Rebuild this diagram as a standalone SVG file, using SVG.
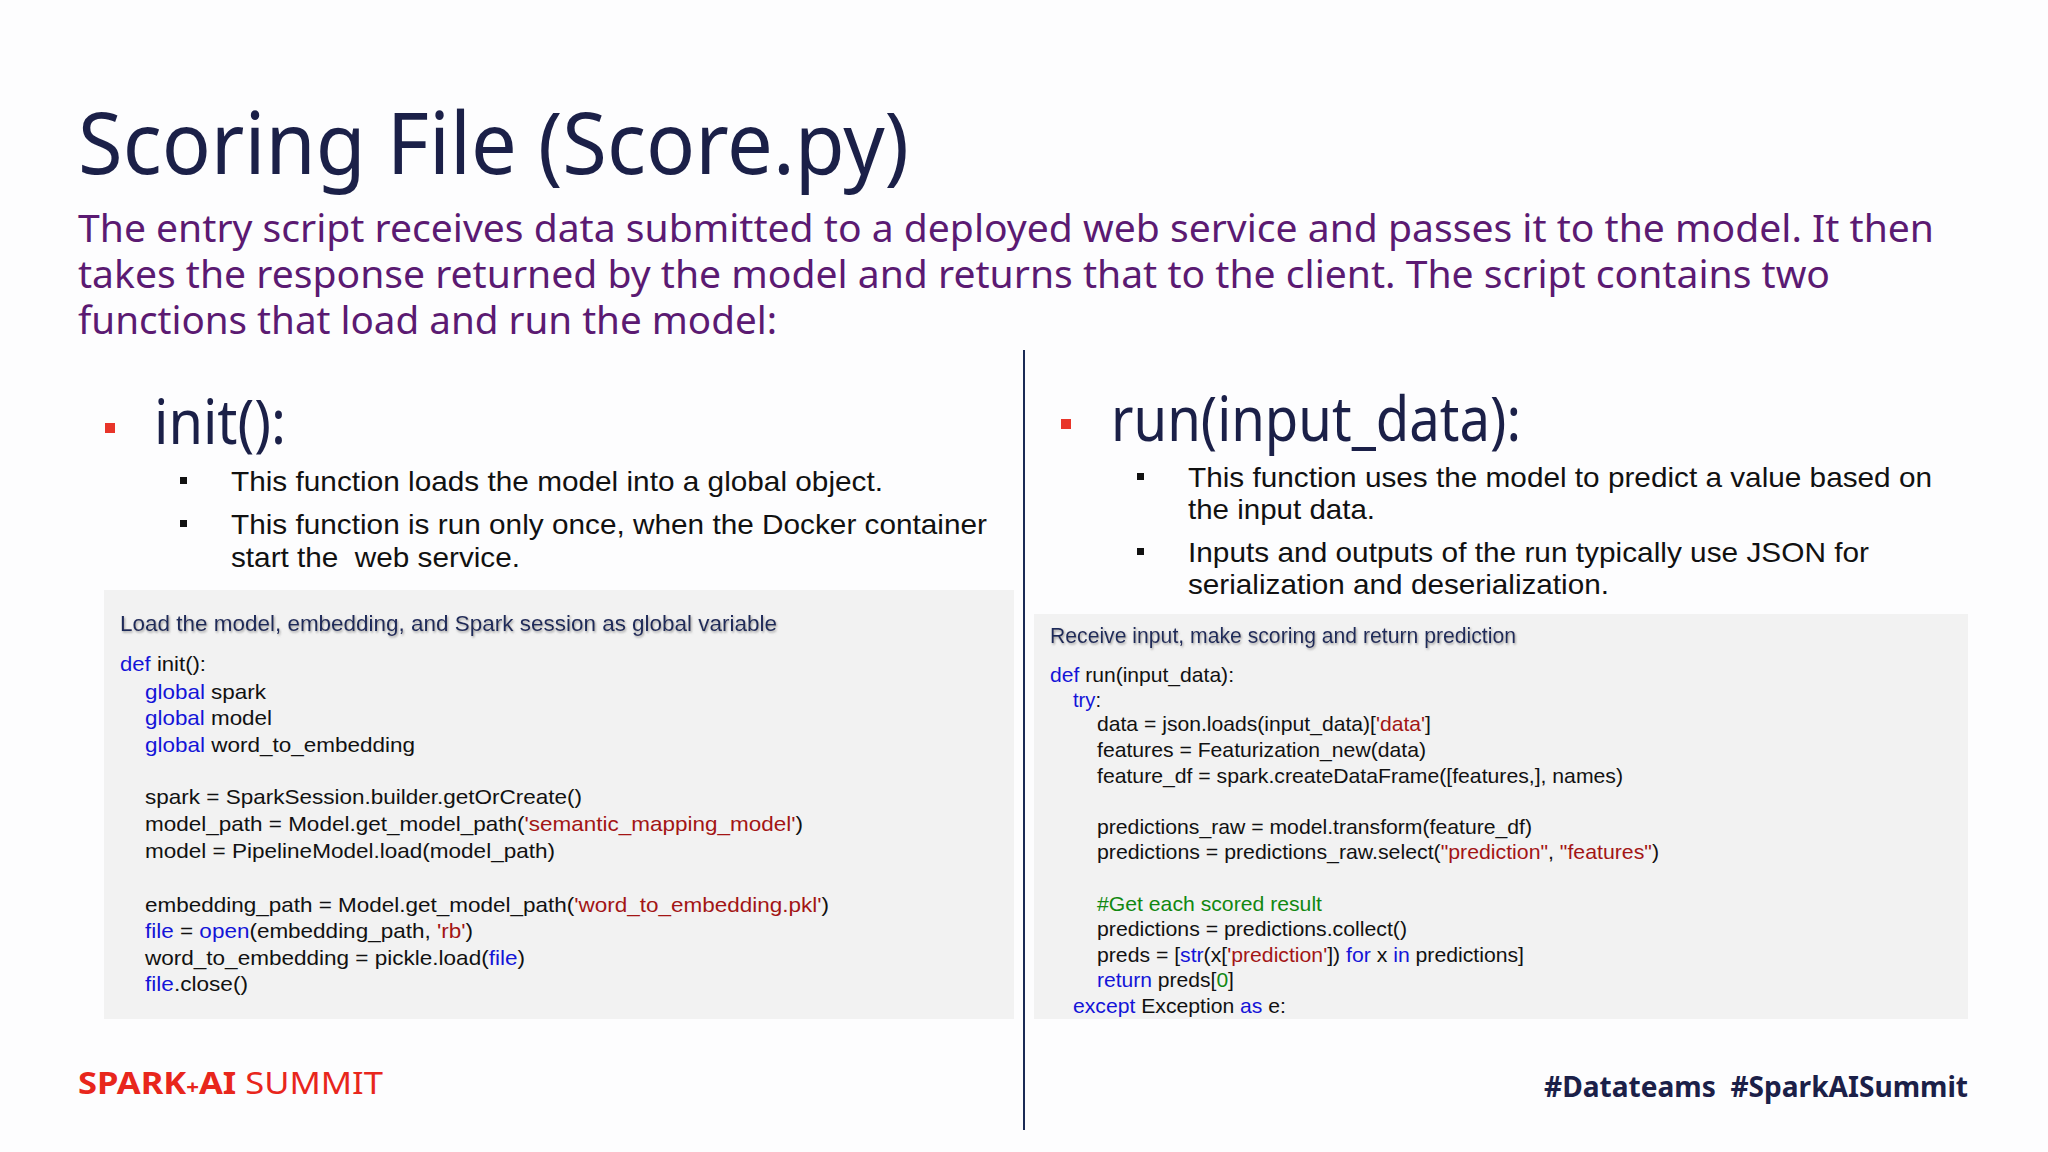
<svg xmlns="http://www.w3.org/2000/svg" width="2048" height="1152" viewBox="0 0 2048 1152">
<defs>
<style>
.t{font-family:"Noto Sans","Liberation Sans",sans-serif}
.a{font-family:"Liberation Sans",Arial,sans-serif}
.title{fill:#1b2048;font-size:86px}
.sub{fill:#5b1a72;font-size:38px}
.head{fill:#1b2048;font-size:62px}
.bul{fill:#111;font-size:28px}
.code{fill:#111;font-size:21px}
.hdr{fill:#1f2a5a;font-size:22px}
.k{fill:#1414d8}.s{fill:#a31515}.c{fill:#118811}
.box{fill:#f2f2f2}
.red{fill:#e8352a}
</style>
<filter id="sh" x="-5%" y="-50%" width="110%" height="200%"><feDropShadow dx="1" dy="1.5" stdDeviation="1" flood-color="#888" flood-opacity="0.8"/></filter>
</defs>
<rect width="2048" height="1152" fill="#fdfdfe"/>
<g id="title">
<text class="t title" x="78" y="174" textLength="831" lengthAdjust="spacingAndGlyphs">Scoring File (Score.py)</text>
<text class="t sub" x="78" y="242" textLength="1856" lengthAdjust="spacingAndGlyphs">The entry script receives data submitted to a deployed web service and passes it to the model. It then</text>
<text class="t sub" x="78" y="288" textLength="1752" lengthAdjust="spacingAndGlyphs">takes the response returned by the model and returns that to the client. The script contains two</text>
<text class="t sub" x="78" y="334" textLength="699" lengthAdjust="spacingAndGlyphs">functions that load and run the model:</text>
</g>
<g id="divider"><line x1="1024" y1="350" x2="1024" y2="1130" stroke="#1b2a55" stroke-width="2"/></g>
<g id="init-section">
<rect class="red" x="105" y="423" width="10" height="10"/>
<text class="t head" x="154" y="444" textLength="132" lengthAdjust="spacingAndGlyphs">init():</text>
<rect x="180" y="477" width="7" height="7" fill="#111"/>
<text class="a bul" x="231" y="491" textLength="652" lengthAdjust="spacingAndGlyphs">This function loads the model into a global object.</text>
<rect x="180" y="520" width="7" height="7" fill="#111"/>
<text class="a bul" x="231" y="534" textLength="756" lengthAdjust="spacingAndGlyphs">This function is run only once, when the Docker container</text>
<text class="a bul" x="231" y="567" textLength="289" lengthAdjust="spacingAndGlyphs" xml:space="preserve">start the  web service.</text>
</g>
<g id="init-code">
<rect class="box" x="104" y="590" width="910" height="429"/>
<text class="a hdr" x="120" y="631" textLength="657" lengthAdjust="spacingAndGlyphs" filter="url(#sh)">Load the model, embedding, and Spark session as global variable</text>
<text class="a code" x="120" y="671" textLength="86" lengthAdjust="spacingAndGlyphs"><tspan class="k">def</tspan> init():</text>
<text class="a code" x="145" y="699" textLength="121" lengthAdjust="spacingAndGlyphs"><tspan class="k">global</tspan> spark</text>
<text class="a code" x="145" y="725" textLength="127" lengthAdjust="spacingAndGlyphs"><tspan class="k">global</tspan> model</text>
<text class="a code" x="145" y="752" textLength="270" lengthAdjust="spacingAndGlyphs"><tspan class="k">global</tspan> word_to_embedding</text>
<text class="a code" x="145" y="804" textLength="437" lengthAdjust="spacingAndGlyphs">spark = SparkSession.builder.getOrCreate()</text>
<text class="a code" x="145" y="831" textLength="658" lengthAdjust="spacingAndGlyphs">model_path = Model.get_model_path(<tspan class="s">'semantic_mapping_model'</tspan>)</text>
<text class="a code" x="145" y="858" textLength="410" lengthAdjust="spacingAndGlyphs">model = PipelineModel.load(model_path)</text>
<text class="a code" x="145" y="912" textLength="684" lengthAdjust="spacingAndGlyphs">embedding_path = Model.get_model_path(<tspan class="s">'word_to_embedding.pkl'</tspan>)</text>
<text class="a code" x="145" y="938" textLength="328" lengthAdjust="spacingAndGlyphs"><tspan class="k">file</tspan> = <tspan class="k">open</tspan>(embedding_path, <tspan class="s">'rb'</tspan>)</text>
<text class="a code" x="145" y="965" textLength="380" lengthAdjust="spacingAndGlyphs">word_to_embedding = pickle.load(<tspan class="k">file</tspan>)</text>
<text class="a code" x="145" y="991" textLength="103" lengthAdjust="spacingAndGlyphs"><tspan class="k">file</tspan>.close()</text>
</g>
<g id="run-section">
<rect class="red" x="1061" y="419" width="10" height="10"/>
<text class="t head" x="1111" y="441" textLength="410" lengthAdjust="spacingAndGlyphs">run(input_data):</text>
<rect x="1137" y="473" width="7" height="7" fill="#111"/>
<text class="a bul" x="1188" y="487" textLength="744" lengthAdjust="spacingAndGlyphs">This function uses the model to predict a value based on</text>
<text class="a bul" x="1188" y="519" textLength="187" lengthAdjust="spacingAndGlyphs">the input data.</text>
<rect x="1137" y="548" width="7" height="7" fill="#111"/>
<text class="a bul" x="1188" y="562" textLength="681" lengthAdjust="spacingAndGlyphs">Inputs and outputs of the run typically use JSON for</text>
<text class="a bul" x="1188" y="594" textLength="421" lengthAdjust="spacingAndGlyphs">serialization and deserialization.</text>
</g>
<g id="run-code">
<rect class="box" x="1034" y="614" width="934" height="405"/>
<text class="a hdr" x="1050" y="643" textLength="466" lengthAdjust="spacingAndGlyphs" filter="url(#sh)">Receive input, make scoring and return prediction</text>
<text class="a code" x="1050" y="682" textLength="184" lengthAdjust="spacingAndGlyphs"><tspan class="k">def</tspan> run(input_data):</text>
<text class="a code" x="1073" y="707" textLength="28" lengthAdjust="spacingAndGlyphs"><tspan class="k">try</tspan>:</text>
<text class="a code" x="1097" y="731" textLength="334" lengthAdjust="spacingAndGlyphs">data = json.loads(input_data)[<tspan class="s">'data'</tspan>]</text>
<text class="a code" x="1097" y="757" textLength="329" lengthAdjust="spacingAndGlyphs">features = Featurization_new(data)</text>
<text class="a code" x="1097" y="783" textLength="526" lengthAdjust="spacingAndGlyphs">feature_df = spark.createDataFrame([features,], names)</text>
<text class="a code" x="1097" y="834" textLength="435" lengthAdjust="spacingAndGlyphs">predictions_raw = model.transform(feature_df)</text>
<text class="a code" x="1097" y="859" textLength="562" lengthAdjust="spacingAndGlyphs">predictions = predictions_raw.select(<tspan class="s">"prediction"</tspan>, <tspan class="s">"features"</tspan>)</text>
<text class="a code c" x="1097" y="911" textLength="225" lengthAdjust="spacingAndGlyphs">#Get each scored result</text>
<text class="a code" x="1097" y="936" textLength="310" lengthAdjust="spacingAndGlyphs">predictions = predictions.collect()</text>
<text class="a code" x="1097" y="962" textLength="427" lengthAdjust="spacingAndGlyphs">preds = [<tspan class="k">str</tspan>(x[<tspan class="s">'prediction'</tspan>]) <tspan class="k">for</tspan> x <tspan class="k">in</tspan> predictions]</text>
<text class="a code" x="1097" y="987" textLength="137" lengthAdjust="spacingAndGlyphs"><tspan class="k">return</tspan> preds[<tspan class="c">0</tspan>]</text>
<text class="a code" x="1073" y="1013" textLength="213" lengthAdjust="spacingAndGlyphs"><tspan class="k">except</tspan> Exception <tspan class="k">as</tspan> e:</text>
</g>
<g id="footer">
<text class="t" x="78" y="1094" font-size="31" fill="#e8261c" textLength="305" lengthAdjust="spacingAndGlyphs"><tspan font-weight="bold">SPARK</tspan><tspan font-size="20" font-weight="bold">+</tspan><tspan font-weight="bold">AI</tspan> SUMMIT</text>
<text class="t" x="1968" y="1097" text-anchor="end" font-size="29" font-weight="bold" fill="#1b2048" textLength="424" lengthAdjust="spacingAndGlyphs" xml:space="preserve">#Datateams  #SparkAISummit</text>
</g>
</svg>
